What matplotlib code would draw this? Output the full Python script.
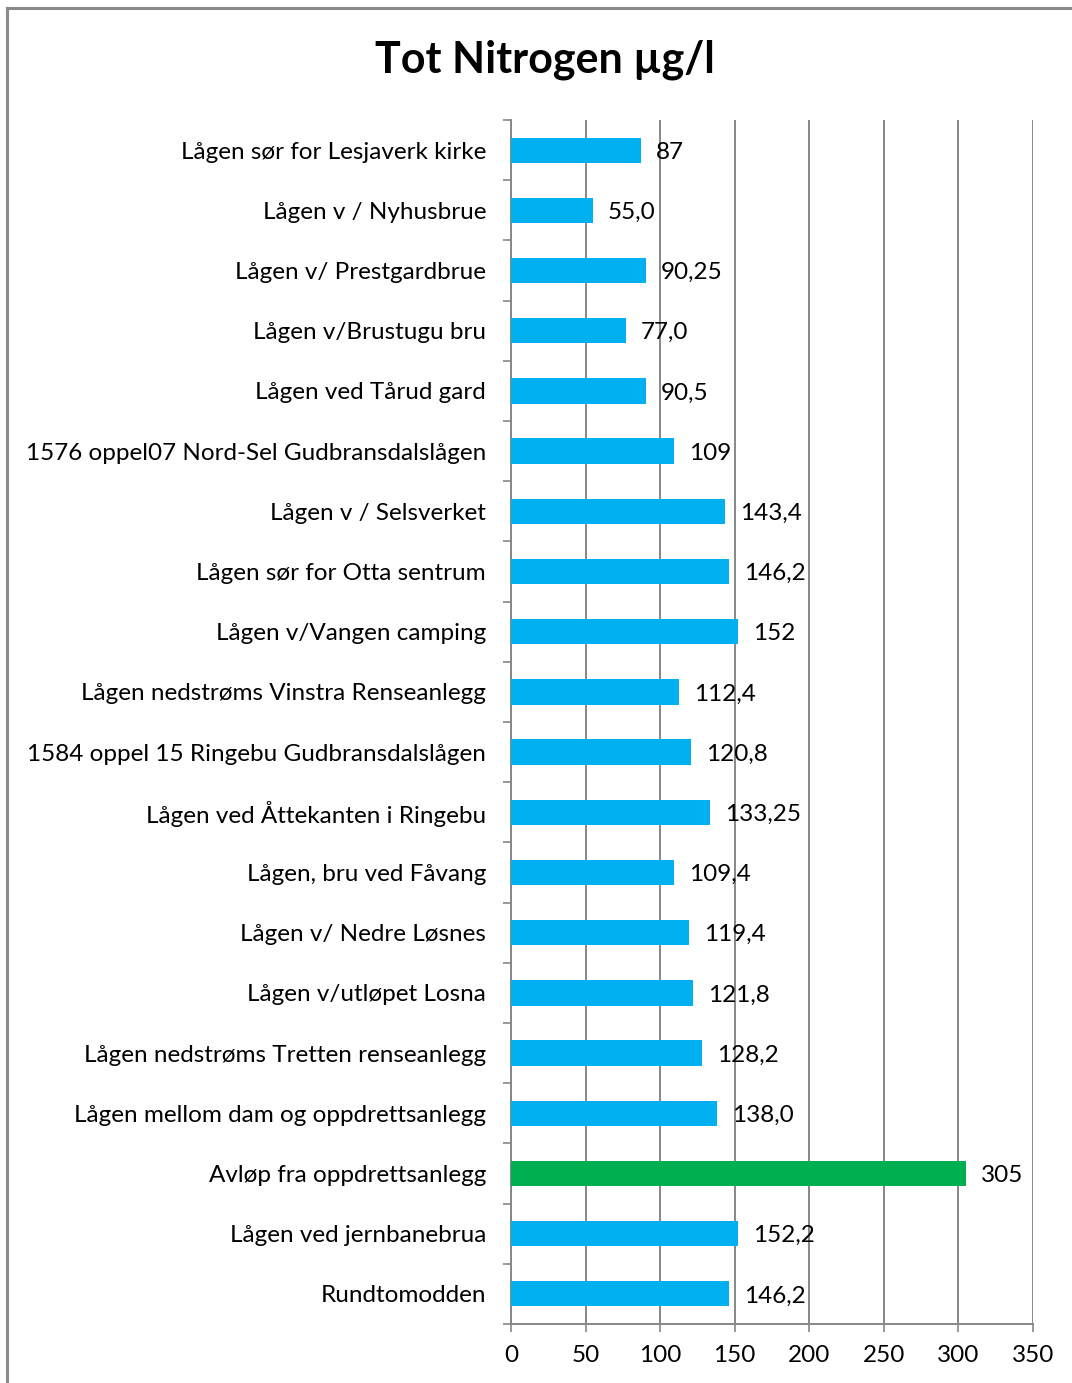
"""Tot Nitrogen µg/l per sampling site — horizontal bar chart (Agg headless)."""

import matplotlib

matplotlib.use("Agg")

import matplotlib.pyplot as plt
from matplotlib.lines import Line2D
import numpy as np

SITES = [
    "Lågen sør for Lesjaverk kirke",
    "Lågen v / Nyhusbrue",
    "Lågen v/ Prestgardbrue",
    "Lågen v/Brustugu bru",
    "Lågen ved Tårud gard",
    "1576 oppel07 Nord-Sel Gudbransdalslågen",
    "Lågen v / Selsverket",
    "Lågen sør for Otta sentrum",
    "Lågen v/Vangen camping",
    "Lågen nedstrøms Vinstra Renseanlegg",
    "1584 oppel 15 Ringebu Gudbransdalslågen",
    "Lågen ved Åttekanten i Ringebu",
    "Lågen, bru ved Fåvang",
    "Lågen v/ Nedre Løsnes",
    "Lågen v/utløpet Losna",
    "Lågen nedstrøms Tretten renseanlegg",
    "Lågen mellom dam og oppdrettsanlegg",
    "Avløp fra oppdrettsanlegg",
    "Lågen ved jernbanebrua",
    "Rundtomodden",
]
VALUES = [87, 55.0, 90.25, 77.0, 90.5, 109, 143.4, 146.2, 152, 112.4,
          120.8, 133.25, 109.4, 119.4, 121.8, 128.2, 138.0, 305, 152.2, 146.2]
VALUE_LABELS = ["87", "55,0", "90,25", "77,0", "90,5", "109", "143,4", "146,2", "152", "112,4",
                "120,8", "133,25", "109,4", "119,4", "121,8", "128,2", "138,0", "305", "152,2", "146,2"]
HIGHLIGHT = "Avløp fra oppdrettsanlegg"
X_TICKS = [0, 50, 100, 150, 200, 250, 300, 350]

_BLUE = "#00B0F0"
_GREEN = "#00B050"
_GRID = "#878787"
_FS = 17.5

plt.rcParams["font.family"] = ["Lato", "DejaVu Sans"]

fig = plt.figure(figsize=(10.72, 13.83), dpi=100)
ax = fig.add_axes([0.4767, 0.0427, 0.4869, 0.8705])

y = np.arange(len(SITES))
colors = [_GREEN if s == HIGHLIGHT else _BLUE for s in SITES]
ax.barh(y, VALUES, height=0.42, color=colors, zorder=3)

for yi, v, lab in zip(y, VALUES, VALUE_LABELS):
    ax.annotate(lab, (v, yi), xytext=(15, -2), textcoords="offset pixels",
                va="center", ha="left", fontsize=_FS, color="black", zorder=4)

ax.set_ylim(len(SITES) - 0.5, -0.5)
ax.set_xlim(0, 350)
ax.set_xticks(X_TICKS)
ax.set_xticklabels([str(t) for t in X_TICKS], fontsize=_FS)
ax.set_yticks(y)
ax.set_yticklabels(SITES, fontsize=_FS)
ax.set_yticks(np.arange(len(SITES) + 1) - 0.5, minor=True)
ax.tick_params(axis="y", which="major", length=0, pad=18)
ax.tick_params(axis="y", which="minor", length=6, width=1.2, color=_GRID, direction="out")
ax.tick_params(axis="x", length=6, width=1.2, color=_GRID, direction="out", pad=9)

ax.grid(axis="x", color=_GRID, linewidth=1.4, zorder=0)
for side in ("top", "right"):
    ax.spines[side].set_visible(False)
for side in ("left", "bottom"):
    ax.spines[side].set_color(_GRID)
    ax.spines[side].set_linewidth(1.4)
    ax.spines[side].set_zorder(2)

fig.text(0.508, 0.957, "Tot Nitrogen µg/l", ha="center", va="center",
         fontsize=31, fontweight="bold")

# outer chart border (top and left visible in the crop)
fig.add_artist(Line2D([0.0065, 0.0065], [0.0, 0.9942], color="#8a8a8a", linewidth=2.2,
                      transform=fig.transFigure))
fig.add_artist(Line2D([0.0065, 1.0], [0.9942, 0.9942], color="#8a8a8a", linewidth=2.2,
                      transform=fig.transFigure))

fig.savefig("out.png", dpi=100)
plt.close(fig)
